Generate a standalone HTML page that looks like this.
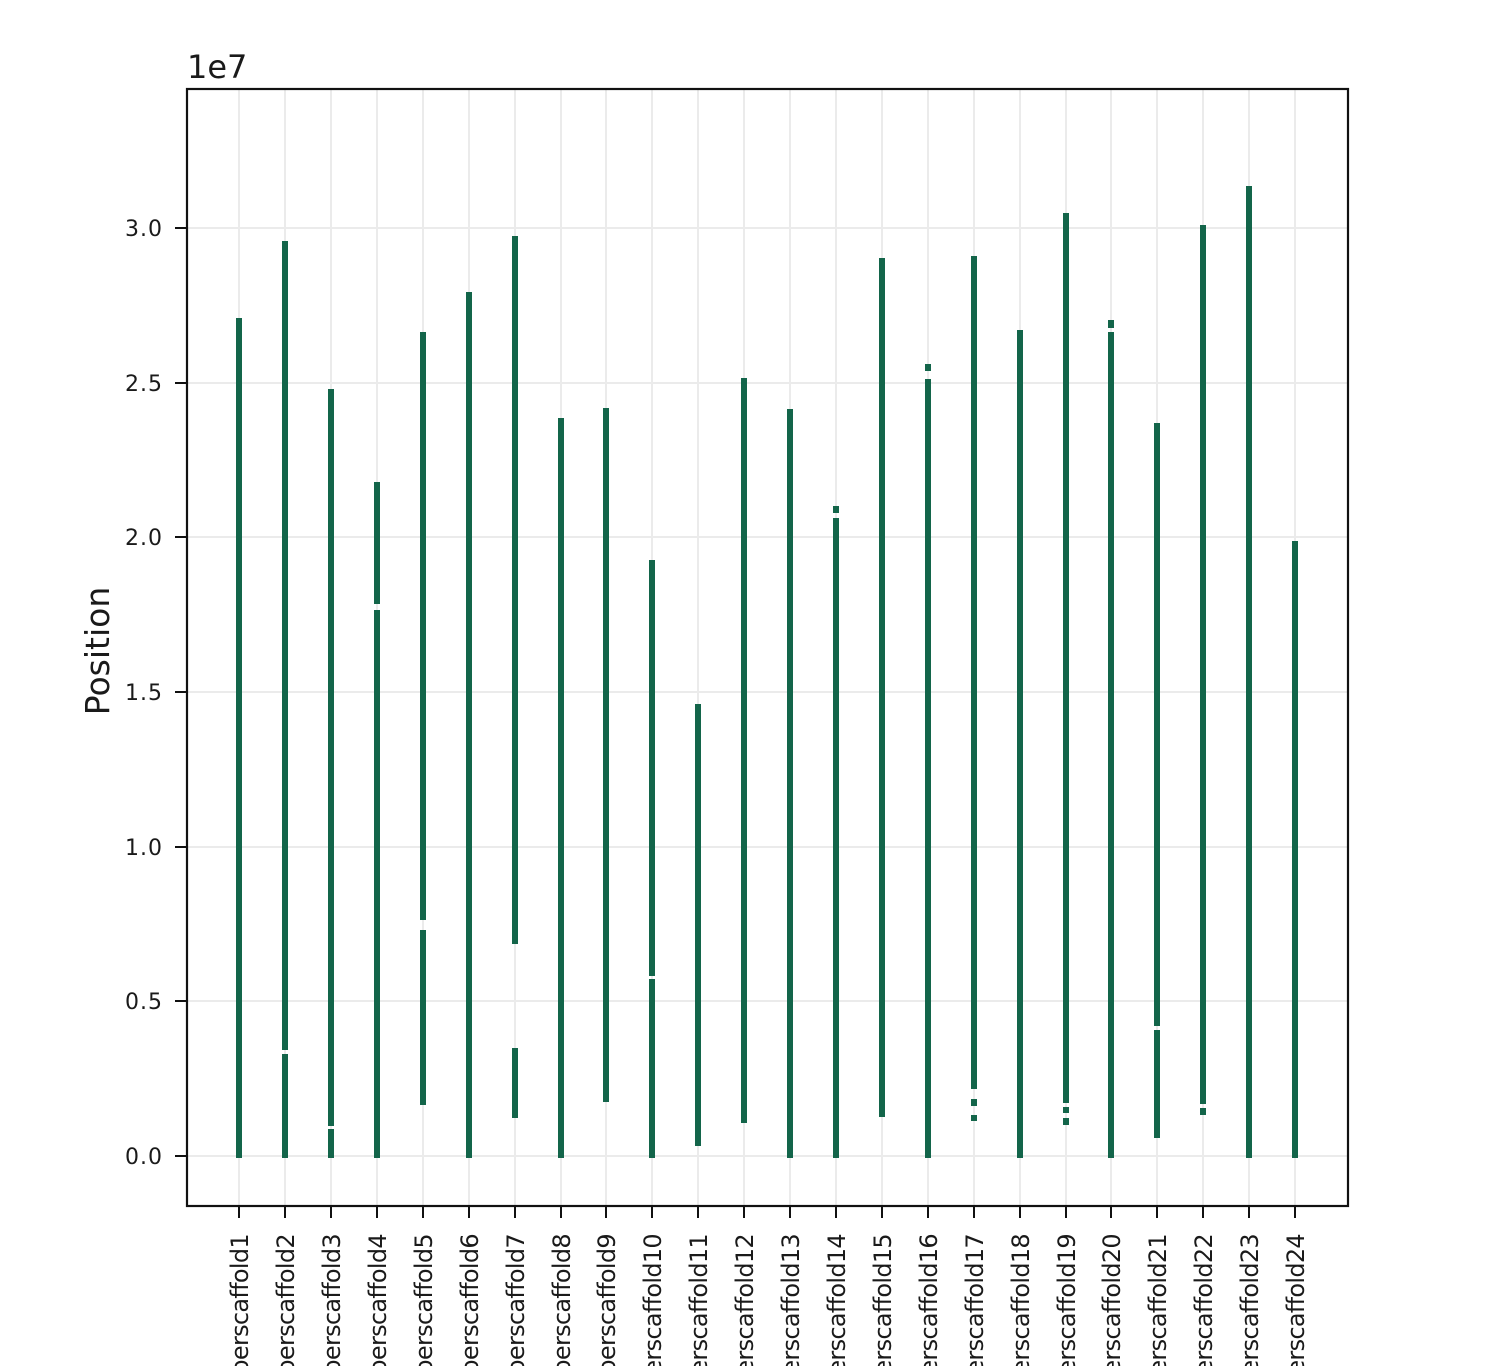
<!DOCTYPE html>
<html><head><meta charset="utf-8"><style>
html,body{margin:0;padding:0;background:#fff;}
svg text{font-family:"DejaVu Sans","Liberation Sans",sans-serif;fill:#1a1a1a;}
</style></head><body>
<svg width="1498" height="1366" viewBox="0 0 1498 1366" xmlns="http://www.w3.org/2000/svg">
<rect width="1498" height="1366" fill="#fff"/>
<g stroke="#ebebeb" stroke-width="2">
<line x1="188" x2="1347" y1="1156" y2="1156"/><line x1="188" x2="1347" y1="1001" y2="1001"/>
<line x1="188" x2="1347" y1="847" y2="847"/><line x1="188" x2="1347" y1="692" y2="692"/>
<line x1="188" x2="1347" y1="537" y2="537"/><line x1="188" x2="1347" y1="383" y2="383"/>
<line x1="188" x2="1347" y1="228" y2="228"/>
<line x1="239" x2="239" y1="90" y2="1205"/><line x1="285" x2="285" y1="90" y2="1205"/><line x1="331" x2="331" y1="90" y2="1205"/><line x1="377" x2="377" y1="90" y2="1205"/><line x1="423" x2="423" y1="90" y2="1205"/><line x1="469" x2="469" y1="90" y2="1205"/><line x1="515" x2="515" y1="90" y2="1205"/><line x1="561" x2="561" y1="90" y2="1205"/><line x1="606" x2="606" y1="90" y2="1205"/><line x1="652" x2="652" y1="90" y2="1205"/><line x1="698" x2="698" y1="90" y2="1205"/><line x1="744" x2="744" y1="90" y2="1205"/><line x1="790" x2="790" y1="90" y2="1205"/><line x1="836" x2="836" y1="90" y2="1205"/><line x1="882" x2="882" y1="90" y2="1205"/><line x1="928" x2="928" y1="90" y2="1205"/><line x1="974" x2="974" y1="90" y2="1205"/><line x1="1020" x2="1020" y1="90" y2="1205"/><line x1="1066" x2="1066" y1="90" y2="1205"/><line x1="1111" x2="1111" y1="90" y2="1205"/><line x1="1157" x2="1157" y1="90" y2="1205"/><line x1="1203" x2="1203" y1="90" y2="1205"/><line x1="1249" x2="1249" y1="90" y2="1205"/><line x1="1295" x2="1295" y1="90" y2="1205"/>
</g>
<g stroke="#13654a" stroke-width="6">
<line x1="239" x2="239" y1="318" y2="1158"/>
<line x1="285" x2="285" y1="241" y2="1050"/><line x1="285" x2="285" y1="1054" y2="1158"/>
<line x1="331" x2="331" y1="389" y2="1126"/><line x1="331" x2="331" y1="1129" y2="1158"/>
<line x1="377" x2="377" y1="482" y2="604"/><line x1="377" x2="377" y1="610" y2="1158"/>
<line x1="423" x2="423" y1="332" y2="920"/><line x1="423" x2="423" y1="930" y2="1105"/>
<line x1="469" x2="469" y1="292" y2="1158"/>
<line x1="515" x2="515" y1="236" y2="944"/><line x1="515" x2="515" y1="1048" y2="1118"/>
<line x1="561" x2="561" y1="418" y2="1158"/>
<line x1="606" x2="606" y1="408" y2="1102"/>
<line x1="652" x2="652" y1="560" y2="976"/><line x1="652" x2="652" y1="979" y2="1158"/>
<line x1="698" x2="698" y1="704" y2="1146"/>
<line x1="744" x2="744" y1="378" y2="1123"/>
<line x1="790" x2="790" y1="409" y2="1158"/>
<line x1="836" x2="836" y1="506" y2="513"/><line x1="836" x2="836" y1="518" y2="1158"/>
<line x1="882" x2="882" y1="258" y2="1117"/>
<line x1="928" x2="928" y1="364" y2="371"/><line x1="928" x2="928" y1="379" y2="1158"/>
<line x1="974" x2="974" y1="256" y2="1089"/><line x1="974" x2="974" y1="1099" y2="1106"/><line x1="974" x2="974" y1="1115" y2="1121"/>
<line x1="1020" x2="1020" y1="330" y2="1158"/>
<line x1="1066" x2="1066" y1="213" y2="1103"/><line x1="1066" x2="1066" y1="1107" y2="1113"/><line x1="1066" x2="1066" y1="1118" y2="1125"/>
<line x1="1111" x2="1111" y1="320" y2="328"/><line x1="1111" x2="1111" y1="332" y2="1158"/>
<line x1="1157" x2="1157" y1="423" y2="1026"/><line x1="1157" x2="1157" y1="1030" y2="1138"/>
<line x1="1203" x2="1203" y1="225" y2="1104"/><line x1="1203" x2="1203" y1="1108" y2="1115"/>
<line x1="1249" x2="1249" y1="186" y2="1158"/>
<line x1="1295" x2="1295" y1="541" y2="1158"/>
</g>
<rect x="187" y="89" width="1161" height="1117" fill="none" stroke="#111" stroke-width="2.2"/>
<g stroke="#111" stroke-width="2">
<line x1="175" x2="187" y1="1156" y2="1156"/><line x1="175" x2="187" y1="1001" y2="1001"/><line x1="175" x2="187" y1="847" y2="847"/><line x1="175" x2="187" y1="692" y2="692"/><line x1="175" x2="187" y1="537" y2="537"/><line x1="175" x2="187" y1="383" y2="383"/><line x1="175" x2="187" y1="228" y2="228"/>
<line x1="239" x2="239" y1="1206" y2="1218"/><line x1="285" x2="285" y1="1206" y2="1218"/><line x1="331" x2="331" y1="1206" y2="1218"/><line x1="377" x2="377" y1="1206" y2="1218"/><line x1="423" x2="423" y1="1206" y2="1218"/><line x1="469" x2="469" y1="1206" y2="1218"/><line x1="515" x2="515" y1="1206" y2="1218"/><line x1="561" x2="561" y1="1206" y2="1218"/><line x1="606" x2="606" y1="1206" y2="1218"/><line x1="652" x2="652" y1="1206" y2="1218"/><line x1="698" x2="698" y1="1206" y2="1218"/><line x1="744" x2="744" y1="1206" y2="1218"/><line x1="790" x2="790" y1="1206" y2="1218"/><line x1="836" x2="836" y1="1206" y2="1218"/><line x1="882" x2="882" y1="1206" y2="1218"/><line x1="928" x2="928" y1="1206" y2="1218"/><line x1="974" x2="974" y1="1206" y2="1218"/><line x1="1020" x2="1020" y1="1206" y2="1218"/><line x1="1066" x2="1066" y1="1206" y2="1218"/><line x1="1111" x2="1111" y1="1206" y2="1218"/><line x1="1157" x2="1157" y1="1206" y2="1218"/><line x1="1203" x2="1203" y1="1206" y2="1218"/><line x1="1249" x2="1249" y1="1206" y2="1218"/><line x1="1295" x2="1295" y1="1206" y2="1218"/>
</g>
<g font-size="22" text-anchor="end" letter-spacing="1">
<text x="163" y="1164">0.0</text><text x="163" y="1009">0.5</text><text x="163" y="855">1.0</text><text x="163" y="700">1.5</text><text x="163" y="545">2.0</text><text x="163" y="391">2.5</text><text x="163" y="236">3.0</text>
</g>
<text x="187" y="78" font-size="32">1e7</text>
<text transform="translate(109,651) rotate(-90)" font-size="33" text-anchor="middle">Position</text>
<g font-size="24" text-anchor="end" letter-spacing="-0.7">
<text transform="translate(248,1234) rotate(-90)">Superscaffold1</text>
<text transform="translate(294,1234) rotate(-90)">Superscaffold2</text>
<text transform="translate(340,1234) rotate(-90)">Superscaffold3</text>
<text transform="translate(386,1234) rotate(-90)">Superscaffold4</text>
<text transform="translate(432,1234) rotate(-90)">Superscaffold5</text>
<text transform="translate(478,1234) rotate(-90)">Superscaffold6</text>
<text transform="translate(524,1234) rotate(-90)">Superscaffold7</text>
<text transform="translate(570,1234) rotate(-90)">Superscaffold8</text>
<text transform="translate(615,1234) rotate(-90)">Superscaffold9</text>
<text transform="translate(661,1234) rotate(-90)">Superscaffold10</text>
<text transform="translate(707,1234) rotate(-90)">Superscaffold11</text>
<text transform="translate(753,1234) rotate(-90)">Superscaffold12</text>
<text transform="translate(799,1234) rotate(-90)">Superscaffold13</text>
<text transform="translate(845,1234) rotate(-90)">Superscaffold14</text>
<text transform="translate(891,1234) rotate(-90)">Superscaffold15</text>
<text transform="translate(937,1234) rotate(-90)">Superscaffold16</text>
<text transform="translate(983,1234) rotate(-90)">Superscaffold17</text>
<text transform="translate(1029,1234) rotate(-90)">Superscaffold18</text>
<text transform="translate(1075,1234) rotate(-90)">Superscaffold19</text>
<text transform="translate(1120,1234) rotate(-90)">Superscaffold20</text>
<text transform="translate(1166,1234) rotate(-90)">Superscaffold21</text>
<text transform="translate(1212,1234) rotate(-90)">Superscaffold22</text>
<text transform="translate(1258,1234) rotate(-90)">Superscaffold23</text>
<text transform="translate(1304,1234) rotate(-90)">Superscaffold24</text>
</g>
</svg>
</body></html>
